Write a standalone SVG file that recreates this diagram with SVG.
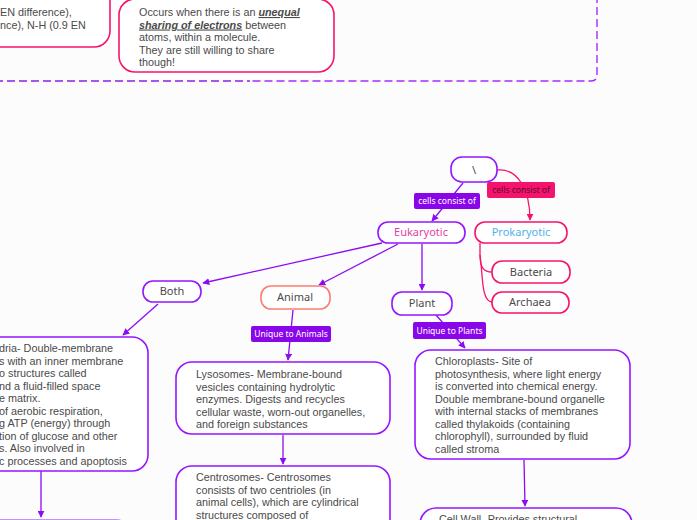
<svg xmlns="http://www.w3.org/2000/svg" width="697" height="520" viewBox="0 0 697 520">
<defs>
<style>
.t{font-family:"Liberation Sans",Arial,sans-serif;font-size:10.8px;fill:#4a4a4a}
.n{font-family:"Noto Sans","Open Sans",sans-serif;font-size:11px;fill:#4a4a4a;text-anchor:middle}
.lb{font-family:"Noto Sans","Open Sans",sans-serif;font-size:8.5px;fill:#fff;text-anchor:middle}
.pb{fill:#fff;stroke:#9416ff;stroke-width:1.6}
.pk{fill:#fff;stroke:#f5146b;stroke-width:1.6}
.c{fill:none;stroke:#8c0bf5;stroke-width:1.3}
.cp{fill:none;stroke:#f5146b;stroke-width:1.3}
.u{font-weight:bold;font-style:italic;text-decoration:underline}
</style>
<marker id="a" viewBox="0 0 10 10" refX="9" refY="5" markerWidth="7" markerHeight="7" orient="auto" markerUnits="userSpaceOnUse"><path d="M0,0L10,5L0,10z" fill="#8c0bf5"/></marker>
<marker id="ap" viewBox="0 0 10 10" refX="9" refY="5" markerWidth="7" markerHeight="7" orient="auto" markerUnits="userSpaceOnUse"><path d="M0,0L10,5L0,10z" fill="#f5146b"/></marker>
</defs>
<rect width="697" height="520" fill="#fcfcfc"/>

<g id="frame">
<path d="M-5,81 H250" fill="none" stroke="#8a1ee8" stroke-width="1.4" stroke-dasharray="8,4"/>
<path d="M597,-5 V75 Q597,81 591,81 H252" fill="none" stroke="#a52bff" stroke-width="1.4" stroke-dasharray="8,4"/>
</g>

<g id="box-top-left">
<rect x="-30" y="-20" width="140" height="67" rx="16" class="pk"/>
<text class="t" x="0" y="16">EN difference),</text>
<text class="t" x="0" y="29">nce), N-H (0.9 EN</text>
</g>

<g id="box-polar">
<rect x="119" y="-1" width="215" height="73" rx="16" class="pk"/>
<text class="t" x="139" y="16">Occurs when there is an <tspan class="u">unequal</tspan></text>
<text class="t" x="139" y="28.5"><tspan class="u">sharing of electrons</tspan> between</text>
<text class="t" x="139" y="41">atoms, within a molecule.</text>
<text class="t" x="139" y="53.5">They are still willing to share</text>
<text class="t" x="139" y="66">though!</text>
</g>

<g id="connectors">
<path class="c" d="M463,183 L432,221" marker-end="url(#a)"/>
<path class="cp" d="M497,170 C518,168 530,190 530,220" marker-end="url(#ap)"/>
<path class="c" d="M382,243 L203,283" marker-end="url(#a)"/>
<path class="c" d="M398,244 L319,285" marker-end="url(#a)"/>
<path class="c" d="M422,244 L422,290" marker-end="url(#a)"/>
<path class="cp" d="M480,243 L480,255 C480,268 484,272 492,272"/>
<path class="cp" d="M480,255 C483,275 481,301 492,302"/>
<path class="c" d="M158,304 L123,335" marker-end="url(#a)"/>
<path class="c" d="M293,310 L288,360" marker-end="url(#a)"/>
<path class="c" d="M436,315 L465,348" marker-end="url(#a)"/>
<path class="c" d="M41,471 L41,517" marker-end="url(#a)"/>
<path class="c" d="M283,435 L283,464" marker-end="url(#a)"/>
<path class="c" d="M524,460 L525,506" marker-end="url(#a)"/>
</g>

<g id="label-euk">
<rect x="414" y="193" width="66" height="16" rx="2" fill="#8a06ea"/>
<text class="lb" x="447" y="204">cells consist of</text>
</g>
<g id="label-pro">
<rect x="487" y="182" width="68" height="16" rx="2" fill="#f5146b"/>
<text class="lb" x="521" y="193" style="fill:#5c0a2e">cells consist of</text>
</g>

<g id="root">
<rect x="451" y="157" width="46" height="25" rx="11" class="pb"/>
<text class="n" x="474" y="174">\</text>
</g>
<g id="eukaryotic">
<rect x="378" y="222" width="87" height="21" rx="10" class="pb"/>
<text class="n" x="421" y="236" style="fill:#e23fa5">Eukaryotic</text>
</g>
<g id="prokaryotic">
<rect x="475" y="222" width="92" height="21" rx="10" class="pk"/>
<text class="n" x="521" y="236" style="fill:#4fb2ea">Prokaryotic</text>
</g>
<g id="bacteria">
<rect x="492" y="261" width="78" height="22" rx="10" class="pk"/>
<text class="n" x="531" y="276">Bacteria</text>
</g>
<g id="archaea">
<rect x="492" y="292" width="77" height="21" rx="10" class="pk"/>
<text class="n" x="530" y="306">Archaea</text>
</g>
<g id="both">
<rect x="143" y="281" width="58" height="21" rx="10" class="pb"/>
<text class="n" x="172" y="295">Both</text>
</g>
<g id="animal">
<rect x="261" y="286" width="69" height="23" rx="10" fill="#fff" stroke="#fa7d70" stroke-width="1.6"/>
<text class="n" x="295" y="301">Animal</text>
</g>
<g id="plant">
<rect x="392" y="292" width="60" height="23" rx="10" class="pb"/>
<text class="n" x="422" y="307">Plant</text>
</g>

<g id="label-animals">
<rect x="251" y="326" width="80" height="16" rx="2" fill="#8a06ea"/>
<text class="lb" x="291" y="337">Unique to Animals</text>
</g>
<g id="label-plants">
<rect x="413" y="322" width="73" height="17" rx="2" fill="#8a06ea"/>
<text class="lb" x="449.5" y="334">Unique to Plants</text>
</g>

<g id="mitochondria">
<rect x="-40" y="337" width="188" height="134" rx="16" class="pb"/>
<text class="t" x="-1" y="352">dria- Double-membrane</text>
<text class="t" x="-1" y="364.5">s with an inner membrane</text>
<text class="t" x="-1" y="377">o structures called</text>
<text class="t" x="-1" y="389.5">nd a fluid-filled space</text>
<text class="t" x="-1" y="402">e matrix.</text>
<text class="t" x="-1" y="414.5">of aerobic respiration,</text>
<text class="t" x="-1" y="427">g ATP (energy) through</text>
<text class="t" x="-1" y="439.5">tion of glucose and other</text>
<text class="t" x="-1" y="452">s. Also involved in</text>
<text class="t" x="-1" y="464.5">c processes and apoptosis</text>
</g>

<g id="bottom-left">
<rect x="-40" y="519.5" width="170" height="40" rx="14" fill="#fff" stroke="#c290ff" stroke-width="1.2"/>
</g>

<g id="lysosomes">
<rect x="176" y="362" width="214" height="72" rx="16" class="pb"/>
<text class="t" x="196" y="378">Lysosomes-  Membrane-bound</text>
<text class="t" x="196" y="390.5">vesicles containing hydrolytic</text>
<text class="t" x="196" y="403">enzymes. Digests and recycles</text>
<text class="t" x="196" y="415.5">cellular waste, worn-out organelles,</text>
<text class="t" x="196" y="428">and foreign substances</text>
</g>

<g id="centrosomes">
<rect x="176" y="466" width="214" height="80" rx="16" class="pb"/>
<text class="t" x="196" y="481">Centrosomes- Centrosomes</text>
<text class="t" x="196" y="493.5">consists of two centrioles (in</text>
<text class="t" x="196" y="506">animal cells), which are cylindrical</text>
<text class="t" x="196" y="518.5">structures composed of</text>
</g>

<g id="chloroplasts">
<rect x="415" y="350" width="215" height="109" rx="16" class="pb"/>
<text class="t" x="435" y="365">Chloroplasts- Site of</text>
<text class="t" x="435" y="377.5">photosynthesis, where light energy</text>
<text class="t" x="435" y="390">is converted into chemical energy.</text>
<text class="t" x="435" y="402.5">Double membrane-bound organelle</text>
<text class="t" x="435" y="415">with internal stacks of membranes</text>
<text class="t" x="435" y="427.5">called thylakoids (containing</text>
<text class="t" x="435" y="440">chlorophyll), surrounded by fluid</text>
<text class="t" x="435" y="452.5">called stroma</text>
</g>

<g id="cell-wall">
<rect x="420" y="508" width="212" height="40" rx="16" class="pb"/>
<text class="t" x="439" y="523">Cell Wall-  Provides structural</text>
</g>
</svg>
